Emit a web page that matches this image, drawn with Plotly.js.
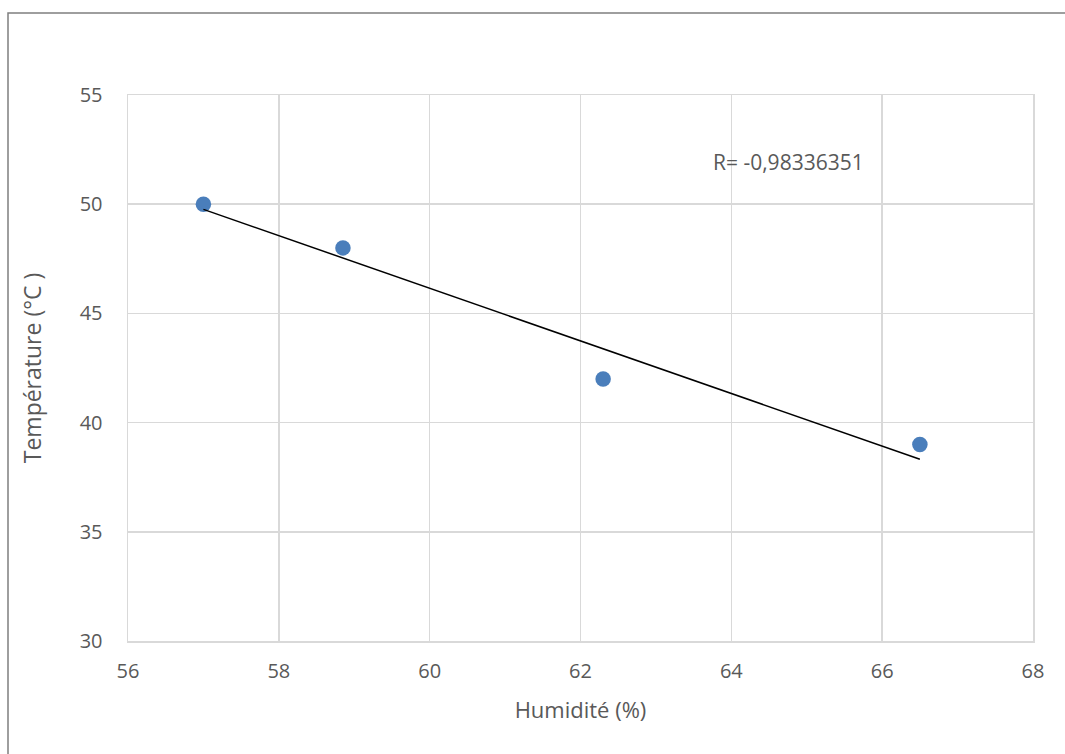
<!DOCTYPE html>
<html>
<head>
<meta charset="utf-8">
<script src="https://cdn.plot.ly/plotly-3.0.1.min.js"></script>
<style>html,body{margin:0;padding:0;background:#fff;}#chart{width:1065px;height:754px;}</style>
</head>
<body>
<div id="chart"></div>
<script>
const humidite = [57, 58.85, 62.3, 66.5];
const temperature = [50, 48, 42, 39];
const rText = "R= -0,98336351";
const xTitle = "Humidité (%)";
const yTitle = "Température (°C )";

// linear regression trendline computed from data
const n = humidite.length;
const mx = humidite.reduce((a,b)=>a+b,0)/n;
const my = temperature.reduce((a,b)=>a+b,0)/n;
let sxy=0, sxx=0;
for (let i=0;i<n;i++){ sxy += (humidite[i]-mx)*(temperature[i]-my); sxx += (humidite[i]-mx)**2; }
const slope = sxy/sxx, intercept = my - slope*mx;
const xMin = Math.min(...humidite), xMax = Math.max(...humidite);
const trendX = [xMin, xMax];
const trendY = trendX.map(x => intercept + slope*x);

const font = "'Open Sans', 'Liberation Sans', sans-serif";
const txt = '#595959';
const data = [
  {x: humidite, y: temperature, mode: 'markers', type: 'scatter',
   marker: {size: 15.5, color: '#4a7ebb'}, hoverinfo: 'none'},
  {x: trendX, y: trendY, mode: 'lines', type: 'scatter',
   line: {color: '#000000', width: 1.5}, hoverinfo: 'none'}
];
const grid = '#d9d9d9';
const layout = {
  width: 1065, height: 754,
  margin: {l: 128, r: 32, t: 95, b: 113},
  paper_bgcolor: '#ffffff', plot_bgcolor: '#ffffff',
  showlegend: false,
  font: {family: font, color: txt, size: 20},
  xaxis: {range: [56, 68], dtick: 2, tick0: 56, showgrid: true, gridcolor: grid, gridwidth: 1.5,
          zeroline: false, showline: true, linecolor: grid, linewidth: 1.5, mirror: true,
          ticks: '', ticklabelstandoff: 11, tickfont: {size: 20, color: txt},
          title: {text: xTitle, font: {size: 22, color: txt}, standoff: 20}},
  yaxis: {range: [30, 55], dtick: 5, tick0: 30, showgrid: true, gridcolor: grid, gridwidth: 1.5,
          zeroline: false, showline: true, linecolor: grid, linewidth: 1.5, mirror: true,
          ticks: '', ticklabelstandoff: 20, tickfont: {size: 20, color: txt},
          title: {text: yTitle, font: {size: 23, color: txt}, standoff: 31}},
  annotations: [{xref: 'paper', yref: 'paper', x: (711-128)/905, y: 1-(162-95)/546,
                 xanchor: 'left', yanchor: 'middle', showarrow: false, text: rText,
                 font: {size: 21, color: txt}}],
  shapes: [{type: 'rect', xref: 'paper', yref: 'paper',
            x0: (8-128)/905, x1: (1075-128)/905, y0: 1-(770-95)/546, y1: 1+(95-13)/546,
            line: {color: '#7f7f7f', width: 1.5}, fillcolor: 'rgba(0,0,0,0)', layer: 'below'}]
};
Plotly.newPlot('chart', data, layout, {staticPlot: true, displayModeBar: false});
</script>
</body>
</html>
